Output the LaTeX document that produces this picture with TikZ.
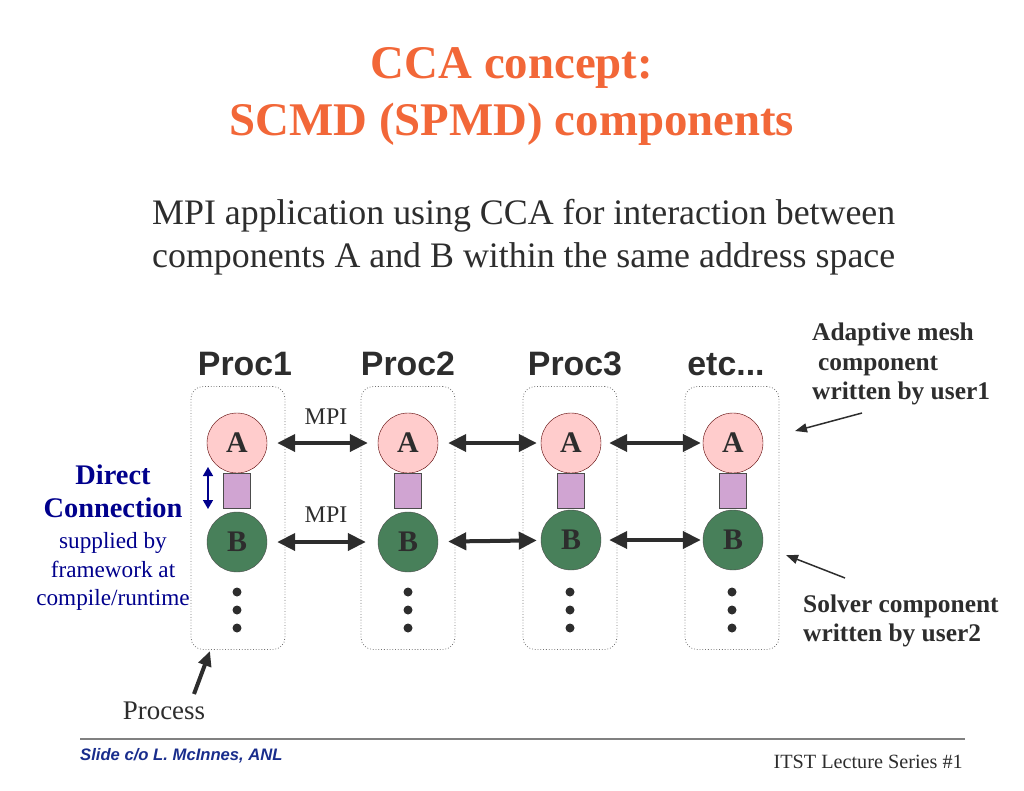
\documentclass[tikz,border=0pt]{standalone}
\usepackage{fontspec}
\setmainfont{Liberation Serif}
\newfontfamily\arialfont{Liberation Sans}
\usetikzlibrary{arrows.meta,shapes}
\definecolor{titleorange}{RGB}{242,103,56}
\definecolor{textgray}{RGB}{45,45,45}
\definecolor{compA}{RGB}{255,204,204}
\definecolor{compB}{RGB}{72,128,90}
\definecolor{portlilac}{RGB}{208,164,210}
\definecolor{directblue}{RGB}{0,0,140}
\definecolor{footblue}{RGB}{25,45,140}

\begin{document}
\begin{tikzpicture}[
  procbox/.style={draw=black!55,dotted,line width=0.8bp,rounded corners=12bp,minimum width=94bp,minimum height=263bp},
  compa/.style={draw=red!35!black,circle,fill=compA,minimum size=60bp,inner sep=0pt,text=textgray,font=\fontsize{30}{30}\selectfont\bfseries},
  compb/.style={draw=black!70,circle,fill=compB,minimum size=60bp,inner sep=0pt,text=textgray,font=\fontsize{30}{30}\selectfont\bfseries},
  port/.style={draw=black!70,fill=portlilac,minimum width=27bp,minimum height=35bp,inner sep=0pt},
  mpiarrow/.style={<->,line width=4bp,draw=textgray,>={Triangle[length=18bp,width=17bp]}},
  notearrow/.style={->,line width=1.5bp,draw=textgray,>={Triangle[length=12bp,width=9bp]}},
  proclabel/.style={anchor=base,text=textgray,font=\arialfont\fontsize{34}{34}\selectfont\bfseries},
  note/.style={anchor=base west,inner sep=0pt,text=textgray,font=\fontsize{25.5}{25.5}\selectfont\bfseries},
  direct/.style={anchor=base,text=directblue,font=\fontsize{23.3}{23.3}\selectfont}
]
\useasboundingbox (0bp,0bp) rectangle (1024bp,-791bp);

% title and subtitle
\node (T1) at (512bp,-78bp)[anchor=base,text=titleorange,font=\fontsize{47}{47}\selectfont\bfseries] {CCA concept:};
\node (T2) at (512bp,-135bp)[anchor=base,text=titleorange,font=\fontsize{47}{47}\selectfont\bfseries] {SCMD (SPMD) components};
\node (S1) at (152bp,-224bp)[anchor=base west,inner sep=0pt,text=textgray,font=\fontsize{36}{36}\selectfont] {MPI application using CCA for interaction between};
\node (S2) at (152bp,-267bp)[anchor=base west,inner sep=0pt,text=textgray,font=\fontsize{36}{36}\selectfont] {components A and B within the same address space};

% process labels
\node (L1) at (245bp,-375bp)[proclabel] {Proc1};
\node (L2) at (408bp,-375bp)[proclabel] {Proc2};
\node (L3) at (575bp,-375bp)[proclabel] {Proc3};
\node (L4) at (726bp,-375bp)[proclabel] {etc...};

% process boxes
\node (P1) at (238bp,-518bp)[procbox] {};
\node (P2) at (408bp,-518bp)[procbox] {};
\node (P3) at (570bp,-518bp)[procbox] {};
\node (P4) at (732bp,-518bp)[procbox] {};

% components
\node (A1) at (237bp,-443bp)[compa] {A};
\node (A2) at (408bp,-443bp)[compa] {A};
\node (A3) at (571bp,-443bp)[compa] {A};
\node (A4) at (733bp,-443bp)[compa] {A};
\node (C1) at (237bp,-491bp)[port] {};
\node (C2) at (408bp,-491bp)[port] {};
\node (C3) at (571bp,-491bp)[port] {};
\node (C4) at (733bp,-491bp)[port] {};
\node (B1) at (237bp,-542bp)[compb] {B};
\node (B2) at (408bp,-542bp)[compb] {B};
\node (B3) at (571bp,-540bp)[compb] {B};
\node (B4) at (733bp,-540bp)[compb] {B};

% dots
\fill [textgray] (237bp,-592bp) circle (4.5bp) (237bp,-610bp) circle (4.5bp) (237bp,-628bp) circle (4.5bp);
\fill [textgray] (408bp,-592bp) circle (4.5bp) (408bp,-610bp) circle (4.5bp) (408bp,-628bp) circle (4.5bp);
\fill [textgray] (570bp,-592bp) circle (4.5bp) (570bp,-610bp) circle (4.5bp) (570bp,-628bp) circle (4.5bp);
\fill [textgray] (732bp,-592bp) circle (4.5bp) (732bp,-610bp) circle (4.5bp) (732bp,-628bp) circle (4.5bp);

% MPI arrows
\draw [mpiarrow,shorten <=10bp,shorten >=10bp] (A1) -- (A2);
\draw [mpiarrow,shorten <=10bp,shorten >=4bp] (A2) -- (A3);
\draw [mpiarrow,shorten <=8bp,shorten >=2bp] (A3) -- (A4);
\draw [mpiarrow,shorten <=10bp,shorten >=12bp] (B1) -- (B2);
\draw [mpiarrow,shorten <=10bp,shorten >=4bp] (B2) -- (B3);
\draw [mpiarrow,shorten <=8bp,shorten >=2bp] (B3) -- (B4);
\node (M1) at (326bp,-424bp)[anchor=base,text=textgray,font=\fontsize{24}{24}\selectfont] {MPI};
\node (M2) at (326bp,-522bp)[anchor=base,text=textgray,font=\fontsize{24}{24}\selectfont] {MPI};

% direct connection
\coordinate (DCtop) at (208bp,-467bp);
\coordinate (DCbot) at (208bp,-509bp);
\draw [<->,line width=1.5bp,directblue,>={Triangle[length=9bp,width=10bp]}] (DCtop) -- (DCbot);
\node (D1) at (113bp,-484bp)[direct,font=\fontsize{28.5}{28.5}\selectfont\bfseries] {Direct};
\node (D2) at (113bp,-517bp)[direct,font=\fontsize{28.5}{28.5}\selectfont\bfseries] {Connection};
\node (D3) at (113bp,-548bp)[direct] {supplied by};
\node (D4) at (113bp,-577bp)[direct] {framework at};
\node (D5) at (113bp,-605bp)[direct] {compile/runtime};

% side notes
\node (N1) at (812bp,-340bp)[note] {Adaptive mesh};
\node (N2) at (818bp,-370bp)[note] {component};
\node (N3) at (812bp,-399bp)[note] {written by user1};
\node (N4) at (803bp,-612bp)[note] {Solver component};
\node (N5) at (803bp,-641bp)[note] {written by user2};
\coordinate (MeshTail) at (862bp,-413bp);
\coordinate (MeshTip) at (795bp,-431bp);
\coordinate (SolverTail) at (845bp,-578bp);
\coordinate (SolverTip) at (786bp,-555bp);
\draw [notearrow] (MeshTail) -- (MeshTip);
\draw [notearrow] (SolverTail) -- (SolverTip);

% process pointer
\node (Proc) at (164bp,-719bp)[anchor=base,text=textgray,font=\fontsize{27}{27}\selectfont] {Process};
\coordinate (ProcTail) at (194bp,-694bp);
\coordinate (ProcTip) at (210bp,-651bp);
\draw [->,line width=4bp,textgray,>={Triangle[length=15bp,width=13bp]}] (ProcTail) -- (ProcTip);

% footer
\coordinate (FootL) at (80bp,-739bp);
\coordinate (FootR) at (965bp,-739bp);
\draw [line width=2.5bp,gray] (FootL) -- (FootR);
\node (F1) at (80bp,-760bp)[anchor=base west,inner sep=0pt,text=footblue,font=\arialfont\fontsize{16.7}{16.7}\selectfont\bfseries\itshape] {Slide c/o L. McInnes, ANL};
\node (F2) at (963bp,-768bp)[anchor=base east,inner sep=0pt,text=textgray,font=\fontsize{20.3}{20.3}\selectfont] {ITST Lecture Series \#1};
\end{tikzpicture}
\end{document}
